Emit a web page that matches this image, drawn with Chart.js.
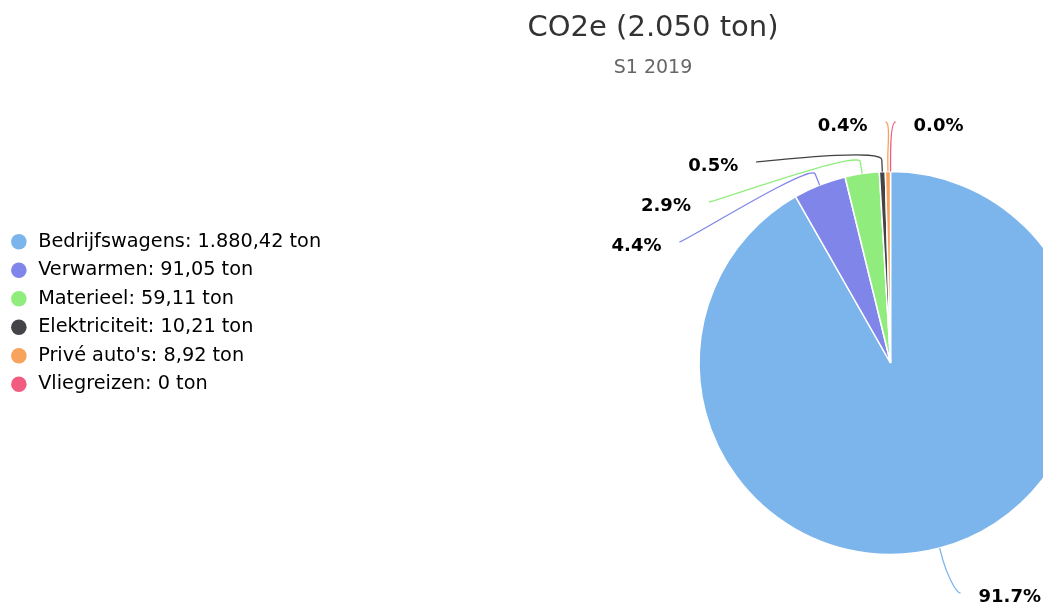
<!DOCTYPE html>
<html>
<head>
<meta charset="utf-8">
<title>CO2e S1 2019</title>
<script src="https://cdn.jsdelivr.net/npm/chart.js@4"></script>
<style>
  html, body { margin: 0; padding: 0; background: #fff; overflow: hidden; }
  #venster { width: 1043px; height: 606px; overflow: hidden; }
  #venster canvas { display: block; }
</style>
</head>
<body>
<div id="venster">
  <canvas id="co2-taart" width="1306" height="606"></canvas>
</div>
<script>
const categorieen = ["Bedrijfswagens", "Verwarmen", "Materieel", "Elektriciteit", "Privé auto's", "Vliegreizen"];
const waarden = [1880.42, 91.05, 59.11, 10.21, 8.92, 0];
const kleuren = ["#7cb5ec", "#8085e9", "#90ed7d", "#434348", "#f7a35c", "#f15c80"];
const periode = "S1 2019";
const eenheid = "ton";

const FONT = '"DejaVu Sans", Verdana, sans-serif';
const PLOT_OVERFLOW = 144;   // plot area loopt door voorbij de rechterrand
const LABEL_DIST = 47.5;
const LABEL_GAP = 40;

function formatNl(v, decimalen) {
  if (v === 0) return "0";
  let [heel, deel] = v.toFixed(decimalen).split(".");
  heel = heel.replace(/\B(?=(\d{3})+(?!\d))/g, ".");
  return deel ? heel + "," + deel : heel;
}

const totaal = waarden.reduce((a, b) => a + b, 0);

const plotOverflow = {
  id: "plotOverflow",
  afterLayout(chart) {
    const a = chart.chartArea;
    a.right += PLOT_OVERFLOW;
    a.width = a.right - a.left;
  }
};

function spreiden(lijst, boven, onder, gap) {
  lijst.sort((a, b) => a.ny - b.ny);
  let vorige = -Infinity;
  lijst.forEach(it => { it.ty = Math.max(it.ny, boven, vorige + gap); vorige = it.ty; });
  let volgende = Infinity;
  for (let k = lijst.length - 1; k >= 0; k--) {
    lijst[k].ty = Math.min(lijst[k].ty, onder, volgende - gap);
    volgende = lijst[k].ty;
  }
}

const taartLabels = {
  id: "taartLabels",
  afterDatasetsDraw(chart) {
    const meta = chart.getDatasetMeta(0);
    const ctx = chart.ctx;
    const links = [], rechts = [];
    meta.data.forEach((arc, i) => {
      const p = arc.getProps(["x", "y", "startAngle", "endAngle", "outerRadius"], true);
      const mid = (p.startAngle + p.endAngle) / 2;
      const norm = Math.atan2(Math.sin(mid), Math.cos(mid));
      const isLinks = norm < -Math.PI / 2 - 1e-9 || norm > Math.PI / 2 + 1e-9;
      const R = p.outerRadius + LABEL_DIST;
      const item = { i, mid, cx: p.x, cy: p.y, r: p.outerRadius, R, ny: p.y + (R + 4) * Math.sin(mid), links: isLinks };
      (isLinks ? links : rechts).push(item);
    });
    const alle = links.concat(rechts);
    if (!alle.length) return;
    const { cy, R } = alle[0];
    spreiden(links, cy - (R - 2), chart.height - 9, LABEL_GAP);
    spreiden(rechts, cy - (R - 2), chart.height - 9, LABEL_GAP);

    ctx.save();
    alle.forEach(it => {
      const sgn = it.links ? -1 : 1;
      const ly = it.ty - 4;
      const dy = ly - it.cy;
      const lx = it.cx + sgn * (Math.sqrt(Math.max(0, it.R * it.R - dy * dy)) + 5);
      const cos = Math.cos(it.mid), sin = Math.sin(it.mid);
      const raak = { x: it.cx + it.r * cos, y: it.cy + it.r * sin };
      const knik = { x: it.cx + (it.r + 12) * cos, y: it.cy + (it.r + 12) * sin };
      ctx.beginPath();
      ctx.moveTo(lx, ly);
      ctx.bezierCurveTo(lx - sgn * 5, ly, 2 * knik.x - raak.x, 2 * knik.y - raak.y, knik.x, knik.y);
      ctx.lineTo(raak.x, raak.y);
      ctx.strokeStyle = kleuren[it.i];
      ctx.lineWidth = 1.3;
      ctx.stroke();

      const pct = (waarden[it.i] / totaal * 100).toFixed(1) + "%";
      ctx.font = "bold 18px " + FONT;
      ctx.fillStyle = "#000000";
      ctx.textBaseline = "middle";
      ctx.textAlign = it.links ? "right" : "left";
      ctx.fillText(pct, lx + sgn * 18, it.ty);
    });
    ctx.restore();
  }
};

Chart.defaults.font.family = FONT;

new Chart(document.getElementById("co2-taart"), {
  type: "pie",
  data: {
    labels: categorieen,
    datasets: [{
      data: waarden,
      backgroundColor: kleuren,
      borderColor: "#ffffff",
      borderWidth: 1.5,
      radius: 191.5
    }]
  },
  options: {
    responsive: false,
    animation: false,
    layout: { padding: { top: 0, left: 0, right: 0, bottom: -20 } },
    plugins: {
      title: {
        display: true,
        text: "CO2e (" + formatNl(Math.round(totaal), 0) + " " + eenheid + ")",
        color: "#333333",
        font: { size: 29, weight: "normal" },
        padding: { top: 11, bottom: 6 }
      },
      subtitle: {
        display: true,
        text: periode,
        color: "#666666",
        font: { size: 19, weight: "normal" },
        padding: { top: 5, bottom: 40.4 }
      },
      legend: {
        position: "left",
        labels: {
          color: "#333333",
          font: { size: 19.3 },
          usePointStyle: true,
          pointStyle: "circle",
          boxHeight: 11,
          padding: 9.2,
          generateLabels(chart) {
            return categorieen.map((naam, i) => ({
              text: naam + ": " + formatNl(waarden[i], 2) + " " + eenheid,
              fillStyle: kleuren[i],
              strokeStyle: kleuren[i],
              lineWidth: 0,
              pointStyle: "circle",
              hidden: false,
              index: i
            }));
          }
        }
      },
      tooltip: { enabled: false }
    }
  },
  plugins: [plotOverflow, taartLabels]
});
</script>
</body>
</html>
